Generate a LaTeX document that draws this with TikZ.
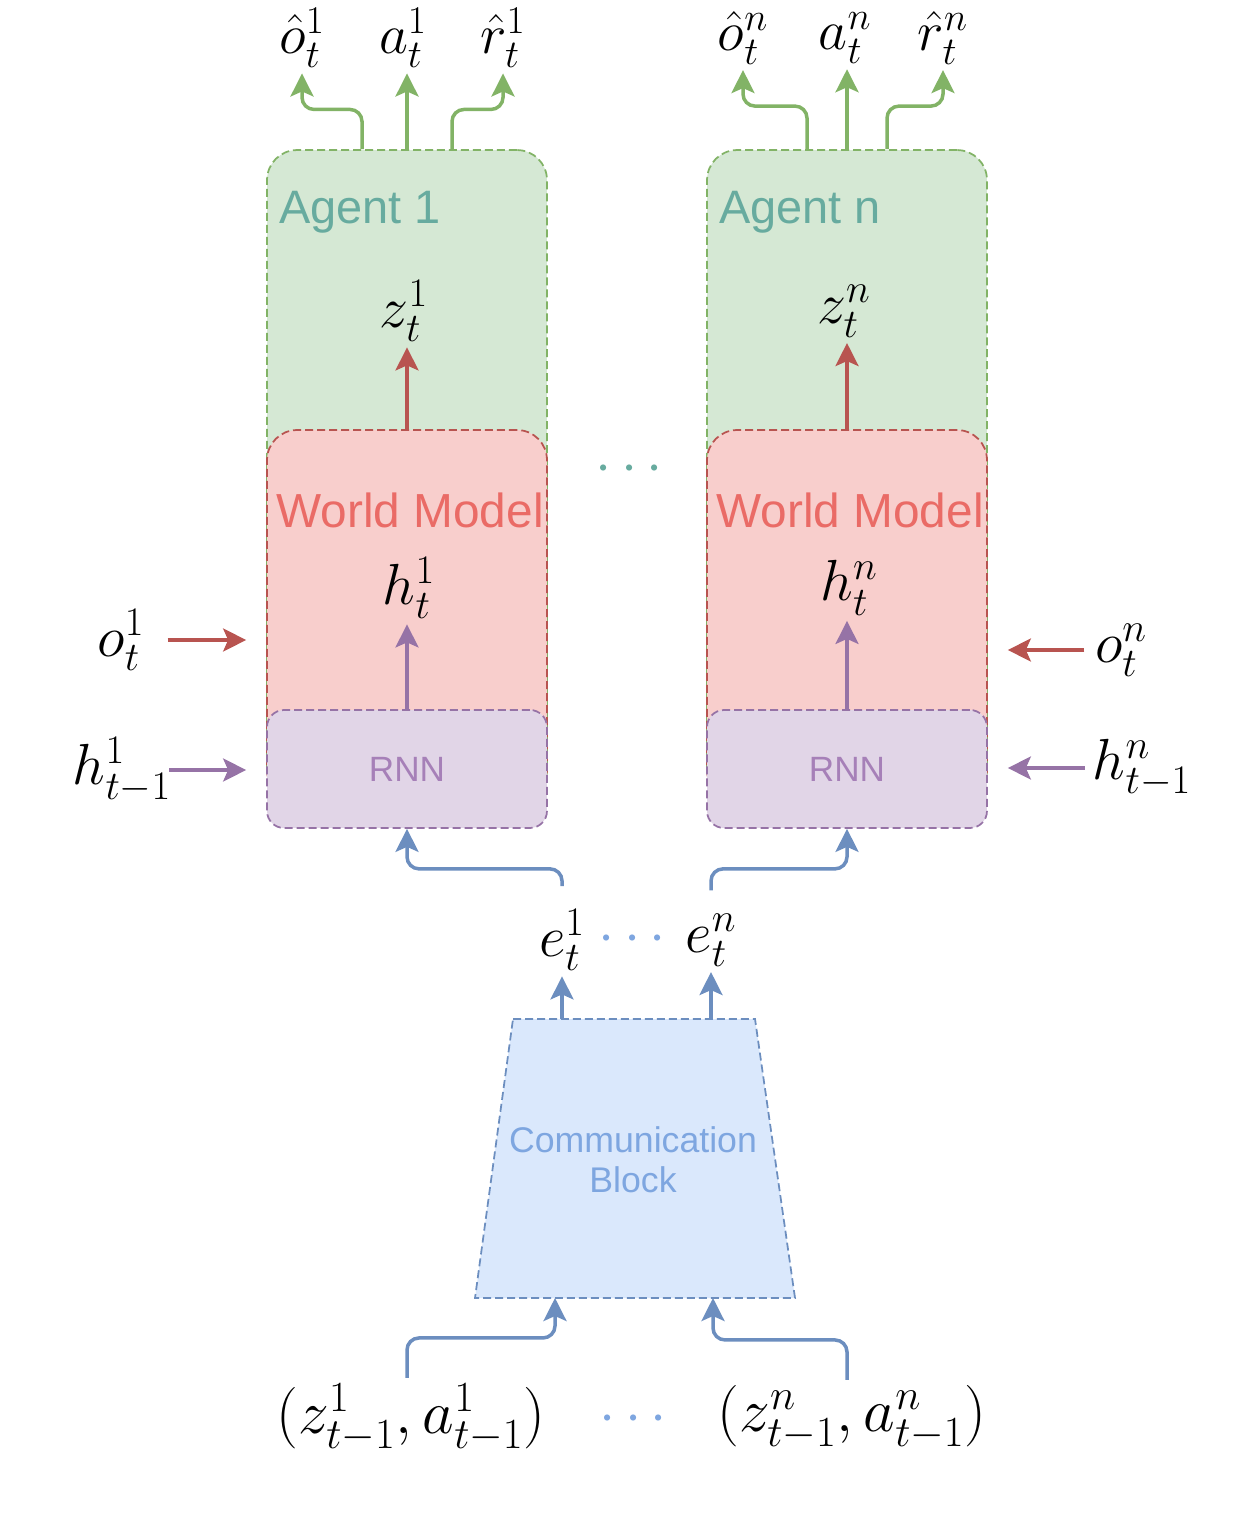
\documentclass[tikz,border=0pt]{standalone}
\usepackage{fix-cm}
\usepackage{fontspec}
\usepackage{amsmath}
\usetikzlibrary{positioning,arrows.meta,calc}
\newfontfamily\sflabel{Liberation Sans}
\definecolor{agfill}{HTML}{D5E8D4}
\definecolor{agline}{HTML}{82B366}
\definecolor{agtext}{HTML}{67AB9F}
\definecolor{wmfill}{HTML}{F8CECC}
\definecolor{wmline}{HTML}{B85450}
\definecolor{wmtext}{HTML}{EA6B66}
\definecolor{rnnfill}{HTML}{E1D5E7}
\definecolor{rnnline}{HTML}{9673A6}
\definecolor{rnntext}{HTML}{A680B8}
\definecolor{cbfill}{HTML}{DAE8FC}
\definecolor{cbline}{HTML}{6C8EBF}
\definecolor{cbtext}{HTML}{7EA6E0}
\tikzset{
  flow/.style={-{Stealth[length=0.46cm, width=0.46cm, inset=0.1cm]}, line width=0.07cm, rounded corners=0.24cm},
  dashbox/.style={line width=0.035cm, dash pattern=on 0.16cm off 0.08cm, minimum width=5.6cm},
  agentbox/.style={dashbox, draw=agline, fill=agfill, rounded corners=0.6cm, minimum height=13cm},
  wmbox/.style={dashbox, draw=wmline, fill=wmfill, rounded corners=0.6cm, minimum height=7.4cm},
  rnnbox/.style={dashbox, draw=rnnline, fill=rnnfill, rounded corners=0.34cm, minimum height=2.36cm, text=rnntext, font=\sflabel\fontsize{20}{24}\selectfont},
  commbox/.style={draw=cbline, fill=cbfill, line width=0.035cm, dash pattern=on 0.16cm off 0.08cm},
  commtext/.style={align=center, text=cbtext, font=\sflabel\fontsize{20.3}{23}\selectfont},
  title/.style={anchor=west, inner sep=0pt, font=\sflabel\fontsize{26.7}{32}\selectfont},
  var/.style={inner sep=3pt, font=\fontsize{33}{40}\selectfont},
  outvar/.style={inner sep=3pt, font=\fontsize{32}{38}\selectfont},
  tuple/.style={inner sep=3pt, font=\fontsize{35}{42}\selectfont},
  dotsep/.style={inner sep=0pt, font=\fontsize{33}{40}\selectfont}
}
\begin{document}
\begin{tikzpicture}[x=0.02cm, y=-0.02cm]
  \useasboundingbox (0,0) rectangle (1254,1530);
  \node[agentbox] (ag1) at (407,475) {};
  \node[agentbox] (agn) at (847,475) {};
  \node[wmbox] (wm1) at (407,615) {};
  \node[wmbox] (wmn) at (847,615) {};
  \node[rnnbox] (rnn1) at (407,769) {RNN};
  \node[rnnbox] (rnnn) at (847,769) {RNN};
  \node[title, text=agtext] (ag1lbl) at (279,212) {Agent 1};
  \node[title, text=agtext] (agnlbl) at (719,212) {Agent n};
  \node[title, text=wmtext, font=\sflabel\fontsize{27.2}{32}\selectfont] (wm1lbl) at (276,510) {World Model};
  \node[title, text=wmtext, font=\sflabel\fontsize{27.2}{32}\selectfont] (wmnlbl) at (716,510) {World Model};

  \node[outvar] (o1hat) at (302,38) {$\hat{o}_t^1$};
  \node[outvar] (a1) at (403,38) {$a_t^1$};
  \node[outvar] (r1hat) at (503,38) {$\hat{r}_t^1$};
  \node[outvar] (onhat) at (743,38) {$\hat{o}_t^n$};
  \node[outvar] (an) at (845,38) {$a_t^n$};
  \node[outvar] (rnhat) at (943,38) {$\hat{r}_t^n$};
  \node[var] (z1) at (404,311) {$z_t^1$};
  \node[var] (zn) at (844,311) {$z_t^n$};
  \node[var] (h1) at (409,588) {$h_t^1$};
  \node[var] (hn) at (849,588) {$h_t^n$};
  \node[var] (o1) at (121,640) {$o_t^1$};
  \node[var] (on) at (1121,650) {$o_t^n$};
  \node[var] (hprev1) at (122,770) {$h_{t-1}^1$};
  \node[var] (hprevn) at (1142,768) {$h_{t-1}^n$};
  \node[var] (e1) at (562,940) {$e_t^1$};
  \node[var] (en) at (711,940) {$e_t^n$};
  \node[tuple] (tup1) at (411,1418) {$(z_{t-1}^1, a_{t-1}^1)$};
  \node[tuple] (tupn) at (852,1418) {$(z_{t-1}^n, a_{t-1}^n)$};
  \node[dotsep, text=agtext] (dotsag) at (634,470) {$\cdots$};
  \node[dotsep, text=cbtext] (dotse) at (637,940) {$\cdots$};
  \node[dotsep, text=cbtext] (dotstup) at (638,1420) {$\cdots$};

  \coordinate (cbtl) at (513,1019);
  \coordinate (cbtr) at (755,1019);
  \coordinate (cbbr) at (795,1298);
  \coordinate (cbbl) at (475,1298);
  \draw[commbox] (cbtl) -- (cbtr) -- (cbbr) -- (cbbl) -- cycle;
  \node[commtext] (comm) at (633,1160) {Communication\\Block};
  \coordinate (cbin1) at (555,1298);
  \coordinate (cbinn) at (713,1298);

  \draw[flow, agline] ($(ag1.north)+(-45,0)$) |- ($(o1hat.south)+(0,36)$) -- (o1hat.south);
  \draw[flow, agline] (ag1.north) -- (ag1.north |- a1.south);
  \draw[flow, agline] ($(ag1.north)+(45,0)$) |- ($(r1hat.south)+(0,36)$) -- (r1hat.south);
  \draw[flow, agline] ($(agn.north)+(-40,0)$) |- ($(onhat.south)+(0,36)$) -- (onhat.south);
  \draw[flow, agline] (agn.north) -- (agn.north |- an.south);
  \draw[flow, agline] ($(agn.north)+(40,0)$) |- ($(rnhat.south)+(0,36)$) -- (rnhat.south);

  \draw[flow, wmline] (wm1.north) -- (wm1.north |- z1.south);
  \draw[flow, wmline] (wmn.north) -- (wmn.north |- zn.south);
  \draw[flow, rnnline] (rnn1.north) -- (rnn1.north |- h1.south);
  \draw[flow, rnnline] (rnnn.north) -- (rnnn.north |- hn.south);

  \draw[flow, wmline, shorten <=0.35cm, shorten >=0.4cm] (o1.east) -- (o1.east -| wm1.west);
  \draw[flow, rnnline, shorten <=-0.15cm, shorten >=0.4cm] (hprev1.east) -- (hprev1.east -| rnn1.west);
  \draw[flow, wmline, shorten <=0.1cm, shorten >=0.4cm] (on.west) -- (on.west -| wmn.east);
  \draw[flow, rnnline, shorten <=0.05cm, shorten >=0.4cm] (hprevn.west) -- (hprevn.west -| rnnn.east);

  \draw[flow, cbline, shorten <=0.35cm] (e1.north) |- ($(rnn1.south)+(0,40)$) -- (rnn1.south);
  \draw[flow, cbline, shorten <=0.35cm] (en.north) |- ($(rnnn.south)+(0,40)$) -- (rnnn.south);
  \draw[flow, cbline] (e1 |- cbtl) -- (e1.south);
  \draw[flow, cbline] (en |- cbtl) -- (en.south);
  \draw[flow, cbline] ($(tup1.north)+(-4,0)$) -- ++(0,-40) -| (cbin1);
  \draw[flow, cbline] ($(tupn.north)+(-5,0)$) -- ++(0,-40) -| (cbinn);
\end{tikzpicture}
\end{document}
